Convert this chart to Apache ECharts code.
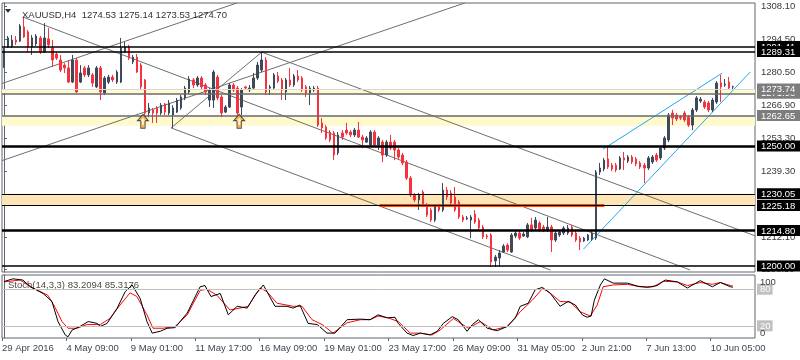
<!DOCTYPE html>
<html><head><meta charset="utf-8">
<script src="https://cdn.jsdelivr.net/npm/echarts@6/dist/echarts.min.js"></script>
<style>html,body{margin:0;padding:0;background:#fff}#c{width:800px;height:360px}</style>
</head><body><div id="c"></div>
<script>
// ---- candle data (XAUUSD H4), index = bar number ----
const opens = [1282.9,1291.2,1291.6,1294.1,1293.7,1299.6,1297.5,1291.2,1292.5,1295.0,1289.1,1294.6,1290.8,1288.3,1285.8,1283.7,1282.5,1276.6,1285.8,1276.6,1282.5,1279.6,1279.6,1274.6,1282.5,1272.1,1276.6,1278.7,1276.6,1276.6,1289.1,1291.2,1285.0,1287.0,1283.7,1277.5,1263.7,1265.0,1265.8,1263.7,1267.5,1263.7,1262.9,1264.1,1265.8,1270.0,1272.5,1277.5,1275.4,1278.3,1275.4,1269.1,1269.1,1278.7,1270.4,1264.1,1266.2,1275.4,1274.1,1266.2,1274.6,1273.3,1274.1,1278.3,1281.6,1285.8,1274.1,1274.1,1279.1,1277.5,1272.5,1277.5,1275.4,1279.1,1278.3,1274.6,1272.1,1273.3,1274.1,1259.6,1257.9,1255.8,1255.4,1247.1,1255.4,1256.6,1255.8,1254.6,1256.6,1253.7,1251.6,1250.4,1255.8,1250.4,1251.6,1246.2,1251.6,1251.6,1248.3,1246.2,1243.3,1236.6,1229.6,1227.5,1230.8,1225.4,1223.3,1219.1,1224.6,1223.3,1231.6,1230.4,1228.7,1226.6,1220.4,1219.6,1219.1,1221.6,1219.1,1216.2,1212.5,1212.9,1202.1,1203.3,1205.8,1208.7,1205.8,1212.5,1213.7,1212.5,1212.1,1217.1,1215.8,1217.9,1216.2,1215.0,1216.2,1210.8,1212.9,1213.7,1213.7,1216.2,1213.7,1211.6,1210.4,1210.8,1211.2,1211.6,1239.1,1240.4,1244.6,1242.0,1242.0,1240.4,1245.0,1243.7,1245.4,1244.6,1242.9,1242.0,1240.8,1243.3,1246.2,1245.0,1249.1,1252.5,1263.7,1262.9,1262.0,1263.7,1262.0,1258.7,1265.0,1268.7,1268.3,1267.9,1265.0,1268.3,1276.2,1275.4,1276.6,1274.53];
const closes = [1290.0,1295.0,1294.1,1293.3,1300.0,1295.4,1291.2,1295.0,1295.8,1289.1,1295.0,1292.1,1285.8,1286.6,1281.6,1282.5,1276.6,1285.8,1272.5,1280.4,1279.6,1282.5,1276.2,1282.5,1272.5,1278.3,1278.7,1277.5,1280.8,1290.8,1291.2,1286.6,1287.0,1280.8,1274.6,1263.7,1265.8,1263.7,1263.7,1267.0,1264.1,1267.9,1265.8,1269.1,1270.4,1274.1,1277.9,1275.4,1278.3,1274.6,1272.5,1273.3,1280.8,1270.0,1263.7,1266.2,1275.4,1273.3,1263.7,1273.3,1274.1,1274.1,1278.3,1283.7,1285.8,1272.5,1274.6,1279.6,1277.0,1273.3,1277.5,1275.4,1279.1,1277.5,1273.3,1272.1,1274.1,1274.1,1258.7,1257.5,1253.3,1252.5,1246.2,1254.6,1253.7,1255.4,1254.6,1256.6,1253.7,1252.5,1253.3,1255.8,1250.4,1253.3,1246.2,1251.6,1249.1,1248.3,1245.4,1242.9,1236.6,1229.6,1227.5,1229.6,1225.4,1221.2,1219.1,1224.6,1223.3,1231.6,1228.7,1226.2,1223.3,1220.4,1219.1,1220.0,1220.4,1218.3,1215.8,1212.1,1212.1,1201.6,1203.7,1205.4,1208.3,1206.6,1212.9,1213.7,1211.6,1213.3,1217.1,1215.0,1219.1,1215.0,1215.0,1216.2,1210.8,1213.7,1214.1,1215.8,1215.8,1212.9,1210.8,1210.0,1211.6,1212.9,1213.7,1239.1,1240.8,1244.1,1241.2,1240.4,1240.0,1245.0,1244.1,1245.4,1243.3,1242.5,1241.2,1240.8,1245.0,1245.4,1244.1,1249.1,1253.3,1262.9,1261.6,1261.2,1261.6,1260.8,1258.7,1265.0,1270.0,1269.5,1266.2,1265.0,1269.1,1276.2,1274.6,1275.8,1274.1,1274.70];
const lows = [1282.5,1290.8,1290.8,1292.1,1293.3,1295.0,1289.1,1287.9,1291.6,1288.3,1288.7,1290.8,1282.9,1285.8,1280.8,1280.4,1276.2,1276.2,1272.1,1276.2,1278.7,1278.7,1274.6,1274.1,1269.1,1271.2,1275.8,1276.6,1275.8,1276.2,1288.7,1285.8,1284.1,1280.4,1273.7,1262.9,1262.0,1259.6,1259.6,1262.9,1262.9,1262.9,1257.5,1263.7,1265.0,1269.1,1271.6,1274.1,1274.6,1273.3,1271.2,1266.2,1265.8,1269.1,1262.0,1263.7,1265.8,1272.5,1262.9,1262.9,1273.3,1272.5,1273.3,1277.5,1280.8,1271.2,1271.2,1273.3,1276.2,1269.1,1269.1,1274.6,1274.6,1276.6,1272.5,1270.4,1267.0,1272.5,1257.9,1255.4,1252.5,1251.6,1244.1,1246.2,1252.5,1254.6,1253.7,1253.7,1253.3,1249.1,1251.2,1249.6,1249.6,1248.3,1243.3,1245.4,1248.3,1244.1,1244.6,1242.0,1235.8,1228.7,1226.6,1223.3,1224.6,1220.4,1218.3,1218.3,1222.5,1222.5,1227.5,1225.4,1222.5,1219.6,1218.3,1219.1,1211.6,1217.5,1215.0,1211.2,1211.2,1199.6,1199.6,1199.6,1205.4,1205.8,1205.4,1211.6,1210.8,1212.1,1211.6,1214.1,1215.0,1214.1,1214.1,1214.1,1205.8,1210.0,1212.1,1212.9,1212.9,1212.1,1210.0,1206.6,1210.0,1210.4,1210.4,1210.8,1237.9,1239.5,1240.4,1239.5,1239.1,1240.0,1240.0,1242.9,1242.5,1241.6,1240.4,1234.5,1240.0,1242.5,1243.3,1244.1,1248.3,1251.6,1258.7,1260.4,1260.8,1260.0,1257.9,1256.6,1264.1,1267.9,1265.4,1264.1,1264.1,1267.5,1268.3,1274.6,1273.3,1273.53];
const highs = [1290.8,1295.8,1296.2,1295.8,1300.8,1303.7,1298.3,1296.2,1296.6,1295.8,1301.2,1299.1,1294.1,1289.1,1287.9,1284.5,1285.8,1287.9,1286.6,1283.7,1283.3,1283.7,1280.4,1283.3,1283.3,1279.1,1279.6,1279.6,1281.6,1295.0,1293.3,1292.1,1287.9,1288.3,1284.5,1277.9,1267.9,1265.8,1266.6,1267.9,1267.9,1269.1,1267.0,1270.0,1271.2,1275.0,1279.1,1278.3,1279.1,1279.1,1276.2,1274.1,1281.6,1279.6,1271.2,1267.0,1276.2,1276.2,1275.0,1274.1,1275.0,1275.4,1280.4,1285.0,1289.1,1287.0,1275.4,1280.4,1280.8,1278.3,1278.3,1282.5,1280.0,1281.6,1279.1,1275.4,1275.0,1275.0,1275.0,1261.6,1258.7,1256.6,1256.2,1255.8,1256.6,1259.6,1256.6,1257.5,1260.0,1254.6,1254.1,1256.6,1256.6,1254.1,1252.5,1252.5,1254.6,1252.5,1249.1,1247.1,1244.1,1237.5,1230.4,1230.4,1231.6,1226.2,1224.1,1225.4,1225.4,1234.5,1232.9,1231.6,1232.9,1227.5,1221.2,1220.8,1221.2,1223.3,1220.0,1217.1,1213.3,1213.7,1204.6,1206.6,1209.1,1209.5,1213.7,1214.6,1214.6,1214.1,1217.9,1220.0,1220.4,1218.7,1217.1,1220.4,1217.1,1214.6,1215.0,1216.6,1217.1,1217.1,1214.6,1212.5,1212.1,1213.3,1214.6,1240.0,1242.9,1245.0,1249.6,1242.9,1242.9,1245.8,1247.5,1246.2,1246.2,1245.4,1243.7,1242.9,1245.8,1246.2,1247.1,1250.0,1254.1,1263.7,1265.0,1263.7,1262.9,1264.6,1262.9,1265.8,1270.8,1270.4,1269.1,1268.7,1270.0,1277.0,1279.6,1277.9,1278.7,1275.14];
const extraSlots = 5; // empty chart-shift space on the right

// ---- stochastic (14,3,3): bar position / value ----
const stochKBar = [0,2.2,4.7,6.5,9.7,11.9,13.4,15.2,15.9,16.9,18.9,20.9,23.1,23.9,25.6,28.1,30.1,31.8,33.8,35.5,36.8,38.8,40.5,42.5,45.5,48.7,49.9,51.4,53.7,55.7,57.9,60.4,62.4,64.4,67.3,70.3,71.8,73.5,75.5,77.8,80.2,82.2,85.2,88.5,90.9,92.9,95.2,97.1,97.9,100.1,101.6,103.4,105.8,107.6,109.1,111.3,112.8,115.0,116.3,117.8,120.0,122.5,125.0,127.0,128.2,130.2,131.9,133.7,135.7,138.1,140.1,141.9,143.6,144.8,145.8,146.6,148.1,149.1,151.3,154.8,157.3,159.8,162.2,164.2,167.2,169.7,172.9,175.9,177.9,180.4,181];
const stochK = [92.5,97,95,84,73,60,27,5,2,13,19,27,24,19,24,49,76,87,65,27,8,11,16,17,41,84,86,68,73,38,52,49,71,87,52,52,49,54,24,22,8,8,30,31,30,38,33,34,24,8,4,8,5,11,24,35,30,11,22,30,16,12,19,33,52,57,79,83,73,52,60,54,38,34,36,62,87,97,90,90,85,83,86,95,92,82,94,84,91,84,83.2094];
const stochDBar = [0,4.0,7.2,10.9,12.7,14.4,15.9,18.1,20.6,23.9,26.3,28.8,31.3,33.0,35.5,37.0,39.5,42.5,45.5,48.7,50.4,52.9,56.1,58.6,60.6,63.6,65.3,67.8,71.8,74.0,76.5,79.0,81.7,85.2,88.5,90.9,92.9,95.4,97.9,100.9,103.4,106.3,108.3,111.6,115.3,118.3,121.5,125.0,128.2,131.2,133.7,135.2,138.1,140.6,143.1,145.6,147.3,148.8,151.3,154.8,158.0,161.2,163.7,167.2,169.7,172.9,175.9,177.9,180.4,181];
const stochD = [92,95,82,70,50,27,16,16,22,22,32,54,74,68,38,16,16,19,38,78,80,70,46,49,52,82,76,57,52,52,30,22,8,25,30,30,36,33,27,8,8,5,13,32,16,27,13,19,43,62,81,76,60,59,43,36,54,84,87,88,84,84,93,92,86,91,88,91,86,85.3176];

// ---- time axis labels ----
const timeLabelBars = [0,16,32,48,64,80,96,112,128,144,160,176];
const timeLabels = ['29 Apr 2016','4 May 09:00','9 May 01:00','11 May 17:00','16 May 09:00','19 May 01:00','23 May 17:00','26 May 09:00','31 May 05:00','2 Jun 21:00','7 Jun 13:00','10 Jun 05:00'];

// ---- price axis ----
const priceMin = 1197.48, priceMax = 1309.55;
const priceTicks = [1308.10,1294.50,1280.50,1266.90,1253.30,1239.30,1225.70,1212.10,1198.50];
const blackLevels = [1291.41,1289.31,1250.00,1230.05,1225.18,1214.80,1200.00];
const blackLevelWidths = [1.5,1.5,2.5,1.2,1.2,2.5,1.5];
const grayLevels = [1271.93,1273.74,1262.65];
const yellowZones = [[1271.93,1273.74],[1258.4,1262.65]];
const orangeZone = [1225.18,1230.05];
const orangeSegment = [93.2,149.1,1225.18];

// ---- drawn objects (bar index, price) ----
const grayLines = [
  [4.7,1303.7,170.4,1198.3],
  [64,1289.1,186.6,1212.5],
  [-0.5,1276.0,57.9,1309.6],
  [-0.5,1243.9,114.5,1309.6],
  [41.5,1257.5,135.7,1198.3],
  [41.5,1257.5,64,1289.1]
];
const blueLines = [
  [148.8,1248.7,178.4,1280.4],
  [143.9,1207.0,185.3,1280.8]
];
const arrowMarks = [[34.5,1260.3],[58.4,1260.3]];

const stochBoxLevels = [80,20];
const stochEndLevels = [100,0];
const title = 'XAUUSD,H4  1274.53 1275.14 1273.53 1274.70';
const stochTitle = 'Stoch(14,3,3) 83.2094 85.3176';

// ---- build ----
const nBars = opens.length;
const cats = [];
for (let i = 0; i < nBars + extraSlots; i++) cats.push(String(i));
const candles = opens.map((o,i)=>[o, closes[i], lows[i], highs[i]]);
const kData = stochKBar.map((b,i)=>[b, stochK[i]]);
const dData = stochDBar.map((b,i)=>[b, stochD[i]]);
const xMax = cats.length - 0.5;
const FONT = '"Liberation Sans", Arial, sans-serif';
const has = (arr,v)=>arr.some(x=>Math.abs(x-v)<1e-6);
const ARROW = 'path://M5,0 L10,5.5 L7,5.5 L7,12 L3,12 L3,5.5 L0,5.5 Z';

const levelLines = [];
blackLevels.forEach((v,i)=>levelLines.push({yAxis:v, lineStyle:{color:'#000', width:blackLevelWidths[i], type:'solid'}}));
levelLines.push({yAxis:grayLevels[0], lineStyle:{color:'#6a6a6a', width:1.5, type:'solid'}});
levelLines.push({yAxis:grayLevels[1], lineStyle:{color:'#d8d8d8', width:1, type:'solid'}});
levelLines.push({yAxis:grayLevels[2], lineStyle:{color:'#6a6a6a', width:1.5, type:'solid'}});

const series = [
  { type:'line', xAxisIndex:1, yAxisIndex:0, data:[], z:1, silent:true,
    markArea:{ silent:true, data:[
      [{yAxis:yellowZones[0][0], itemStyle:{color:'#fffacd'}},{yAxis:yellowZones[0][1]}],
      [{yAxis:yellowZones[1][0], itemStyle:{color:'#fffacd'}},{yAxis:yellowZones[1][1]}],
      [{yAxis:orangeZone[0], itemStyle:{color:'#ffe4b5'}},{yAxis:orangeZone[1]}]
    ]},
    markLine:{ silent:true, symbol:'none', label:{show:false}, animation:false, data:levelLines }
  }
];
grayLines.forEach(l=>series.push({type:'line', xAxisIndex:1, yAxisIndex:0, z:2, silent:true, symbol:'none',
  data:[[l[0],l[1]],[l[2],l[3]]], lineStyle:{color:'#6e6e6e', width:1}}));
blueLines.forEach(l=>series.push({type:'line', xAxisIndex:1, yAxisIndex:0, z:2, silent:true, symbol:'none',
  data:[[l[0],l[1]],[l[2],l[3]]], lineStyle:{color:'#1ea8ec', width:1}}));
series.push({type:'line', xAxisIndex:1, yAxisIndex:0, z:3, silent:true, symbol:'none',
  data:[[orangeSegment[0],orangeSegment[2]],[orangeSegment[1],orangeSegment[2]]], lineStyle:{color:'#ff4a00', width:3}});
series.push({type:'candlestick', xAxisIndex:0, yAxisIndex:0, z:4, barWidth:2, data:candles,
  itemStyle:{color:'#3e4a5a', color0:'#f5333f', borderColor:'#3e4a5a', borderColor0:'#f5333f', borderColorDoji:'#3e4a5a', borderWidth:1}});
series.push({type:'scatter', xAxisIndex:1, yAxisIndex:0, z:5, silent:true, data:arrowMarks,
  symbol:ARROW, symbolSize:[11,14], itemStyle:{color:'#f5a623', borderColor:'#1f2a44', borderWidth:1}});
series.push({type:'scatter', xAxisIndex:1, yAxisIndex:0, z:6, silent:true, data:arrowMarks,
  symbol:ARROW, symbolSize:[5,7], itemStyle:{color:'#ffffff'}});
series.push({type:'line', xAxisIndex:2, yAxisIndex:1, z:1, data:[], silent:true,
  markLine:{silent:true, symbol:'none', label:{show:false}, animation:false,
    data:stochBoxLevels.map(v=>({yAxis:v})), lineStyle:{color:'#c0c0c0', width:1, type:'solid'}}});
series.push({type:'line', xAxisIndex:2, yAxisIndex:1, z:3, symbol:'none', data:dData, lineStyle:{color:'#ff0000', width:1}});
series.push({type:'line', xAxisIndex:2, yAxisIndex:1, z:4, symbol:'none', data:kData, lineStyle:{color:'#000', width:1}});

const chart = echarts.init(document.getElementById('c'), null, {renderer:'canvas'});
chart.setOption({
  animation:false,
  textStyle:{fontFamily:FONT},
  title:{text:title, left:17, top:5, textStyle:{fontSize:9.5, fontWeight:'normal', color:'#333', fontFamily:FONT}},
  graphic:[
    {type:'polygon', shape:{points:[[5,9],[11,9],[8,13]]}, style:{fill:'#333'}},
    {type:'text', left:8, top:280, z:0, style:{text:stochTitle, fill:'#4a4a4a', font:'9.5px '+FONT}}
  ],
  grid:[
    {left:2, top:3, width:753, height:269, show:true, borderColor:'#5f6670', borderWidth:1, outerBoundsMode:'none', containLabel:false},
    {left:2, top:275, width:753, height:63, show:true, borderColor:'#5f6670', borderWidth:1, outerBoundsMode:'none', containLabel:false}
  ],
  xAxis:[
    {type:'category', gridIndex:0, data:cats, boundaryGap:true, show:false},
    {type:'value', gridIndex:0, min:-0.5, max:xMax, show:false},
    {type:'value', gridIndex:1, min:-0.5, max:xMax, splitLine:{show:false},
      axisLine:{show:false},
      axisTick:{show:true, length:3, customValues:timeLabelBars.map(b=>b-0.5), lineStyle:{color:'#5f6670'}},
      axisLabel:{customValues:timeLabelBars.map(b=>b-0.5), align:'left', margin:5, fontSize:9.5, color:'#3c4655', fontFamily:FONT, hideOverlap:false,
        formatter:v=>timeLabels[timeLabelBars.indexOf(Math.round(v+0.5))] || ''}}
  ],
  yAxis:[
    {type:'value', gridIndex:0, position:'right', min:priceMin, max:priceMax, splitLine:{show:false},
      axisLine:{show:true, lineStyle:{color:'#5f6670'}},
      axisTick:{show:true, length:3, inside:false, customValues:priceTicks, lineStyle:{color:'#5f6670'}},
      axisLabel:{customValues:[].concat(priceTicks, [1291.41,1289.31,1271.93,1273.74,1262.65,1250.00,1230.05,1225.18,1214.80,1200.00]),
        margin:2, align:'left', fontSize:9.5, fontFamily:FONT, hideOverlap:false, showMinLabel:true, showMaxLabel:true,
        formatter:v=>{const s=v.toFixed(2); if(has(blackLevels,v)) return '{b|'+s+'}'; if(has(grayLevels,v)) return '{g|'+s+'}'; return '{t|'+s+'}';},
        rich:{
          t:{color:'#3a3a3a', fontSize:9.5, padding:[0,0,0,4]},
          b:{color:'#fff', backgroundColor:'#000', fontSize:9.5, width:35, height:10, lineHeight:10, padding:[1,4,0,4]},
          g:{color:'#fff', backgroundColor:'#7d7d7d', fontSize:9.5, width:35, height:10, lineHeight:10, padding:[1,4,0,4]}
        }}},
    {type:'value', gridIndex:1, position:'right', min:0, max:103.3, splitLine:{show:false},
      axisLine:{show:true, lineStyle:{color:'#5f6670'}}, axisTick:{show:false},
      axisLabel:{customValues:stochBoxLevels, margin:2, align:'left', fontSize:9.5, fontFamily:FONT, hideOverlap:false,
        formatter:v=>'{g|'+v+'}',
        rich:{ g:{color:'#fff', backgroundColor:'#c0c0c0', fontSize:9.5, padding:[1,2,0,3]} }}},
    {type:'value', gridIndex:1, position:'right', min:0, max:103.3, splitLine:{show:false},
      axisLine:{show:false}, axisTick:{show:false},
      axisLabel:{customValues:stochEndLevels, margin:2, align:'left', fontSize:9.5, fontFamily:FONT, hideOverlap:false, showMinLabel:true, showMaxLabel:true,
        formatter:v=> v===100 ? '{p|100}' : '{q|0}',
        rich:{
          p:{color:'#3a3a3a', fontSize:9.5, padding:[10,0,0,3]},
          q:{color:'#3a3a3a', fontSize:9.5, padding:[0,0,10,3]}
        }}}
  ],
  series:series
});
</script>
</body></html>
